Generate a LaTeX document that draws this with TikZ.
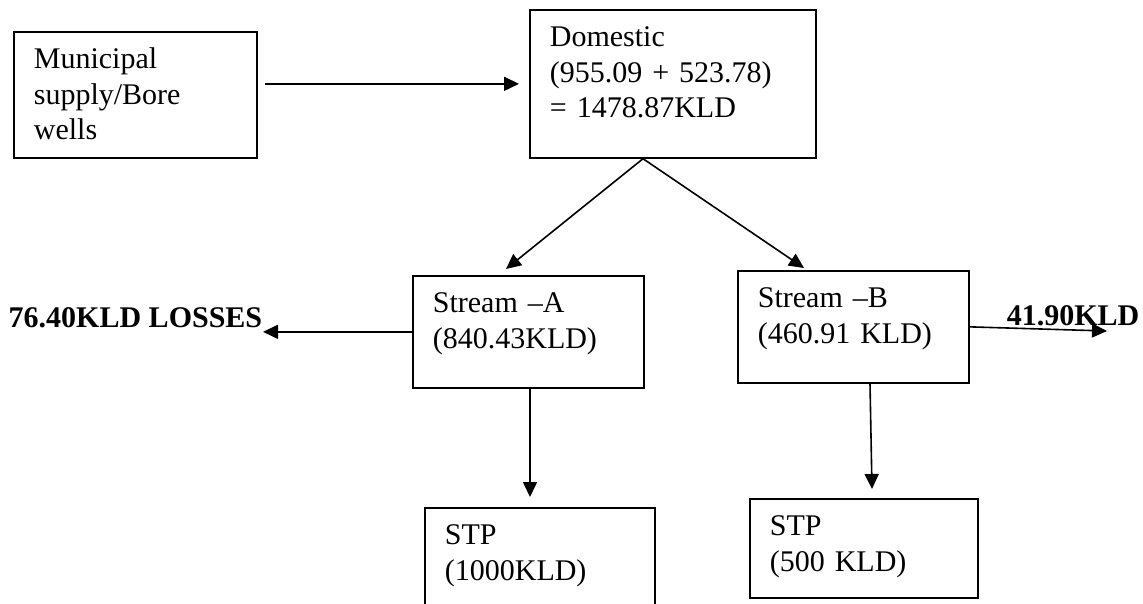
\documentclass[tikz,border=0pt]{standalone}
\usepackage{fontspec}
\setmainfont{Liberation Serif}
\usetikzlibrary{arrows.meta, positioning}

\begin{document}
\begin{tikzpicture}[
	x=1pt, y=-1pt,
	>={Triangle[length=15pt,width=14pt]},
	line width=1.7pt,
	font=\fontsize{30}{35.5}\selectfont,
	box/.style={draw, anchor=north west, align=left, inner xsep=20pt, inner ysep=17pt, text height=20pt},
	flow/.style={->, line width=1.6pt},
	loss/.style={inner sep=0pt, font=\fontsize{30}{35.5}\selectfont\bfseries}
]
\path[use as bounding box, clip] (0,0) rectangle (1143,603);

\node[box, text width=203pt, text depth=72pt] (mun) at (13,31) {Municipal\\supply/Bore\\wells};
\node[box, text width=246pt, text depth=94pt] (dom) at (529,9) {Domestic\\(955.09 + 523.78)\\= 1478.87KLD};
\node[box, text width=191pt, text depth=58pt] (sa) at (412,275) {Stream --A\\(840.43KLD)};
\node[box, text width=191pt, text depth=58pt] (sb) at (737,270) {Stream --B\\(460.91 KLD)};
\node[box, text width=190pt, text depth=70pt] (stpa) at (424,507) {STP\\(1000KLD)};
\node[box, text width=188pt, text depth=45pt] (stpb) at (749,498) {STP\\(500 KLD)};

% outflows
\node[loss, anchor=base east] (lossa) at (263,327) {76.40KLD LOSSES};
\node[loss, anchor=base west] (lossb) at (1006,325) {41.90KLD};
\coordinate (bout) at (1107,331);

\draw[flow] ([xshift=7pt]mun.east |- dom.west) -- ([xshift=-10pt]dom.west);
\draw[flow] ([xshift=114pt]dom.south west) -- ([xshift=94pt,yshift=6pt]sa.north west);
\draw[flow] ([xshift=114pt]dom.south west) -- ([xshift=67pt,yshift=2pt]sb.north west);
\draw[flow] (sa.west) -- (sa.west -| lossa.east);
\draw[flow] (sb.east) -- (bout);
\draw[flow] ([xshift=118pt]sa.south west) -- ([xshift=106pt,yshift=10pt]stpa.north west);
\draw[flow] ([xshift=133pt]sb.south west) -- ([xshift=123pt,yshift=9pt]stpb.north west);
\end{tikzpicture}
\end{document}
